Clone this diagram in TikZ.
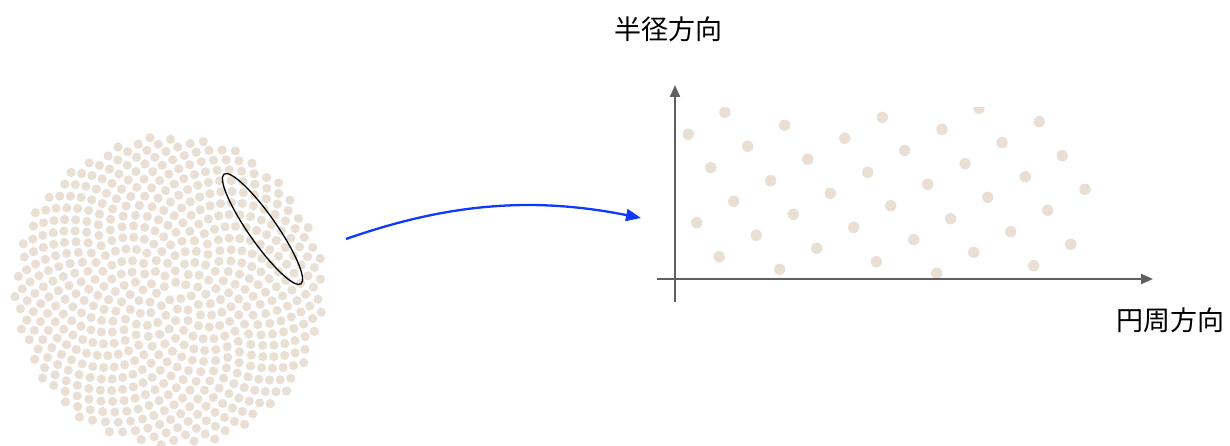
\documentclass[tikz,border=0pt]{standalone}
\usepackage{fontspec}
\newfontfamily\jp{Noto Sans CJK JP}
\usetikzlibrary{arrows.meta,shapes.geometric}
\definecolor{seedc}{RGB}{233,223,213}
\definecolor{axisc}{RGB}{96,96,96}
\definecolor{arrc}{RGB}{16,56,255}
\begin{document}
\begin{tikzpicture}[x=1pt,y=1pt,
  seed/.style={fill=seedc},
  axisline/.style={draw=axisc,line width=2pt,-{Triangle[length=12pt,width=10pt]}},
  lab/.style={font=\jp\fontsize{27}{30}\selectfont,inner sep=0pt,text=black},
  mapto/.style={draw=arrc,line width=2.3pt,-{Triangle[length=15pt,width=12pt]}},
  sel/.style={draw=black,line width=1.3pt,ellipse,inner sep=0pt,minimum width=134pt,minimum height=28pt}]
\useasboundingbox (0,0) rectangle (1230,446);
% sunflower disc (Vogel spiral)
\foreach \i in {1,...,600}{
  \fill[seed] ({169+\fpeval{6.33*sqrt(\i)*cosd(\i*137.50776)}},{155+\fpeval{6.33*sqrt(\i)*sind(\i*137.50776)}}) circle[radius=4.6];
}
\node[sel,rotate=-55] (selection) at (262.5,217) {};
% mapping arrow
\coordinate (from) at (346,207);
\coordinate (to) at (641,228);
\draw[mapto] (from) .. controls (446,242) and (531,250) .. (to);
% unrolled lattice
\begin{scope}
\clip (650,0) rectangle (1200,338);
\foreach \x/\y in {688.3/134.3,725/112.3,
  710.7/167.7,747.7/146.3,784.7/125.3,
  696.7/222.7,733.7/201.3,770.7/180.7,807.7/159.3,844.7/138.3,882.3/117.3,
  719.3/256.7,756.3/235.3,793.3/214.3,830.3/193.3,867.7/172.3,904.7/150.3,942/129.3,979/108.3,
  779.7/269.3,816.7/248.3,853.7/227.3,890.7/205.7,927.7/184.3,965/163.7,1002/142.7,1039.3/121.7,
  876.3/261.7,913.7/239.7,950.7/218.7,987.7/197.3,1025.3/176.7,1062.3/155.7,
  936.7/273.3,973.7/252.3,1010.7/231.7,1047.7/210.3,1085/189.3,
  1033.7/265.7,1070.7/244.3}{
  \fill[seed] (\x,446-\y) circle[radius=5.7];
}
\end{scope}
% axes
\coordinate (ybot) at (675,144);
\coordinate (ytop) at (675,361);
\coordinate (xleft) at (657,167);
\coordinate (xright) at (1153,167);
\draw[axisline] (ybot) -- (ytop);
\draw[axisline] (xleft) -- (xright);
% labels
\node[lab] (radial) at (668,417) {半径方向};
\node[lab] (circum) at (1170,126) {円周方向};
\end{tikzpicture}
\end{document}
